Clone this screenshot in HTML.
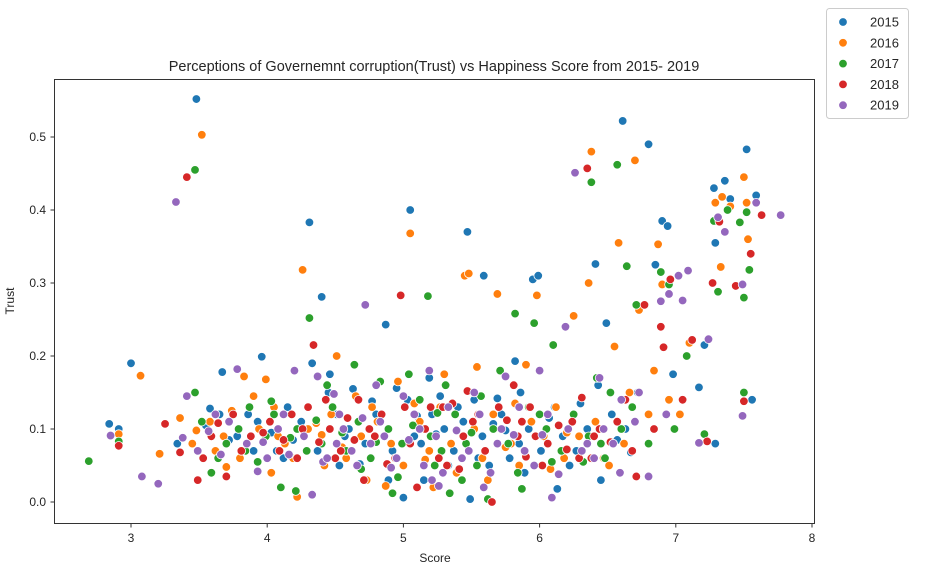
<!DOCTYPE html>
<html><head><meta charset="utf-8"><style>
body{margin:0;background:#fff;font-family:"Liberation Sans","DejaVu Sans",sans-serif;}
svg text{font-family:"Liberation Sans","DejaVu Sans",sans-serif;fill:#262626;}
</style></head><body>
<svg id="chart" width="925" height="580">
<text x="434" y="71" text-anchor="middle" font-size="14.5">Perceptions of Governemnt corruption(Trust) vs Happiness Score from 2015- 2019</text>
<g id="marks"></g>
<rect x="54.5" y="79.5" width="760" height="444" fill="none" stroke="#333" stroke-width="1"/>
<g id="axes"></g>
<text x="435" y="562" text-anchor="middle" font-size="12">Score</text>
<text x="14" y="301" text-anchor="middle" font-size="12" transform="rotate(-90 14 301)">Trust</text>
<g id="legend"></g>
</svg>
<script>
const years = ["2015","2016","2017","2018","2019"];
const colors = ["#1f77b4","#ff7f0e","#2ca02c","#d62728","#9467bd"];
const xTicks = [3,4,5,6,7,8];
const yTicks = [0,0.1,0.2,0.3,0.4,0.5];
const yTickLabels = ["0.0","0.1","0.2","0.3","0.4","0.5"];
const d2015 = [[2.84,.107],[2.91,.100],[3.00,.190],[3.34,.080],[3.48,.552],[3.58,.128],[3.65,.120],[3.67,.178],[3.78,.090],[3.90,.070],[3.96,.199],[4.03,.095],[4.12,.060],[4.22,.008],[4.31,.383],[4.33,.190],[4.40,.281],[4.46,.175],[4.51,.120],[4.57,.090],[4.63,.155],[4.68,.052],[4.77,.138],[4.87,.243],[4.89,.030],[4.95,.156],[5.00,.006],[5.05,.400],[5.10,.118],[5.13,.080],[5.19,.170],[5.27,.145],[5.33,.050],[5.40,.130],[5.47,.370],[5.49,.004],[5.55,.060],[5.59,.310],[5.69,.142],[5.75,.098],[5.82,.193],[5.85,.080],[5.89,.040],[5.95,.305],[5.99,.310],[6.07,.115],[6.13,.018],[6.30,.135],[6.41,.326],[6.45,.030],[6.49,.245],[6.57,.085],[6.61,.522],[6.67,.068],[6.80,.490],[6.85,.325],[6.90,.385],[6.94,.378],[6.98,.175],[7.17,.157],[7.21,.215],[7.28,.430],[7.29,.355],[7.29,.080],[7.36,.440],[7.40,.415],[7.52,.483],[7.56,.140],[7.59,.420],[5.24,.093],[4.19,.085],[3.93,.110],[6.27,.070],[5.66,.107],
[3.55,.105],[3.72,.085],[3.86,.12],[4.07,.07],[4.15,.13],[4.25,.11],[4.37,.07],[4.45,.15],[4.53,.05],[4.60,.10],[4.72,.08],[4.80,.12],[4.92,.07],[5.03,.14],[5.08,.09],[5.15,.03],[5.21,.12],[5.30,.10],[5.37,.07],[5.44,.11],[5.52,.14],[5.58,.09],[5.63,.05],[5.72,.12],[5.78,.06],[5.86,.15],[5.92,.10],[6.01,.07],[6.11,.13],[6.17,.09],[6.22,.05],[6.35,.10],[6.43,.16],[6.53,.12],[6.63,.10],[6.72,.15]];
const d2016 = [[3.07,.173],[2.91,.093],[3.36,.115],[3.52,.503],[3.48,.098],[3.62,.070],[3.70,.048],[3.74,.125],[3.83,.172],[3.90,.145],[3.99,.168],[4.08,.090],[4.19,.060],[4.22,.007],[4.26,.318],[4.36,.108],[4.42,.050],[4.51,.200],[4.55,.075],[4.65,.145],[4.73,.030],[4.81,.110],[4.87,.022],[4.96,.165],[5.05,.368],[5.08,.135],[5.16,.058],[5.22,.020],[5.30,.175],[5.45,.310],[5.48,.313],[5.54,.185],[5.62,.030],[5.69,.285],[5.75,.075],[5.82,.135],[5.90,.188],[5.98,.283],[6.03,.090],[6.08,.045],[6.20,.095],[6.38,.480],[6.36,.300],[6.47,.060],[6.55,.213],[6.58,.355],[6.70,.468],[6.73,.263],[6.87,.353],[6.90,.298],[6.95,.140],[7.03,.120],[7.10,.218],[7.29,.410],[7.33,.322],[7.34,.418],[7.40,.405],[7.50,.445],[7.52,.410],[7.53,.360],[4.40,.092],[5.35,.080],[6.25,.255],[4.03,.040],[3.21,.066],[6.84,.180],
[3.45,.08],[3.58,.11],[3.68,.09],[3.80,.06],[3.94,.10],[4.05,.13],[4.13,.08],[4.30,.10],[4.47,.12],[4.58,.06],[4.69,.09],[4.77,.13],[4.91,.08],[5.00,.05],[5.12,.11],[5.19,.07],[5.27,.13],[5.39,.04],[5.52,.10],[5.58,.06],[5.66,.12],[5.79,.08],[5.85,.05],[5.94,.11],[6.12,.13],[6.18,.06],[6.29,.09],[6.41,.11],[6.51,.05],[6.62,.08],[6.66,.15],[6.80,.12]];
const d2017 = [[2.69,.056],[2.91,.083],[3.47,.455],[3.47,.150],[3.59,.040],[3.64,.060],[3.79,.100],[3.87,.130],[3.93,.055],[4.03,.138],[4.10,.020],[4.17,.088],[4.29,.070],[4.31,.252],[4.36,.112],[4.44,.160],[4.55,.095],[4.64,.188],[4.69,.045],[4.80,.082],[4.83,.165],[4.96,.034],[5.04,.175],[5.07,.105],[5.18,.282],[5.23,.050],[5.25,.122],[5.31,.160],[5.34,.012],[5.50,.095],[5.57,.145],[5.62,.004],[5.71,.180],[5.82,.258],[5.84,.040],[5.87,.018],[5.96,.245],[6.00,.120],[6.10,.215],[6.09,.055],[6.38,.438],[6.42,.170],[6.45,.080],[6.52,.150],[6.57,.462],[6.64,.323],[6.71,.270],[6.89,.315],[6.95,.298],[6.99,.100],[7.08,.200],[7.21,.093],[7.28,.385],[7.31,.288],[7.38,.400],[7.47,.383],[7.50,.150],[7.52,.397],[7.54,.318],[7.50,.280],[4.21,.015],[5.43,.030],[4.92,.012],[6.32,.055],
[3.52,.11],[3.70,.08],[3.84,.07],[3.99,.09],[4.05,.12],[4.22,.10],[4.40,.08],[4.48,.13],[4.58,.07],[4.67,.11],[4.76,.06],[4.89,.10],[4.99,.08],[5.12,.14],[5.20,.09],[5.28,.07],[5.38,.12],[5.46,.08],[5.54,.05],[5.66,.10],[5.77,.08],[5.92,.13],[6.05,.10],[6.16,.07],[6.25,.12],[6.36,.09],[6.48,.06],[6.60,.10],[6.68,.13],[6.80,.08]];
const d2018 = [[2.91,.077],[3.25,.107],[3.36,.068],[3.41,.445],[3.49,.030],[3.59,.090],[3.70,.035],[3.81,.070],[3.97,.095],[4.12,.085],[4.18,.120],[4.26,.100],[4.34,.215],[4.38,.082],[4.43,.140],[4.50,.060],[4.59,.115],[4.71,.030],[4.75,.100],[4.88,.052],[4.98,.283],[5.01,.130],[5.10,.020],[5.16,.100],[5.26,.060],[5.36,.135],[5.41,.045],[5.47,.152],[5.55,.120],[5.65,.000],[5.76,.112],[5.81,.160],[5.87,.110],[5.97,.090],[6.02,.050],[6.14,.105],[6.20,.072],[6.31,.143],[6.35,.457],[6.38,.060],[6.44,.100],[6.63,.140],[6.71,.035],[6.77,.270],[6.89,.240],[6.91,.212],[6.96,.305],[7.12,.222],[7.23,.083],[7.27,.300],[7.32,.384],[7.44,.296],[7.50,.138],[7.55,.340],[7.63,.393],[6.52,.082],[5.29,.130],[4.64,.085],[3.64,.108],[5.90,.062],
[3.53,.06],[3.75,.12],[3.88,.09],[4.02,.11],[4.09,.07],[4.22,.06],[4.30,.13],[4.46,.10],[4.54,.07],[4.67,.14],[4.79,.09],[4.84,.12],[4.94,.06],[5.05,.08],[5.20,.13],[5.32,.05],[5.44,.09],[5.51,.11],[5.60,.07],[5.70,.13],[5.84,.09],[5.93,.13],[6.06,.08],[6.24,.11],[6.29,.06],[6.40,.09],[6.57,.11],[6.68,.07],[6.84,.10],[7.05,.14]];
const d2019 = [[2.85,.091],[3.08,.035],[3.20,.025],[3.33,.411],[3.38,.088],[3.41,.145],[3.57,.097],[3.66,.065],[3.78,.182],[3.93,.042],[3.97,.082],[4.08,.100],[4.16,.065],[4.20,.180],[4.33,.010],[4.37,.172],[4.41,.055],[4.49,.148],[4.56,.100],[4.62,.070],[4.70,.115],[4.72,.270],[4.80,.160],[4.86,.090],[4.91,.047],[5.00,.145],[5.04,.085],[5.12,.100],[5.19,.180],[5.21,.030],[5.29,.040],[5.39,.098],[5.43,.060],[5.52,.150],[5.59,.020],[5.69,.080],[5.75,.172],[5.81,.092],[5.89,.070],[6.00,.180],[6.02,.092],[6.09,.006],[6.14,.038],[6.19,.240],[6.26,.451],[6.35,.080],[6.40,.060],[6.44,.170],[6.59,.040],[6.73,.150],[6.80,.035],[6.89,.275],[6.95,.285],[7.02,.310],[7.05,.276],[7.09,.317],[7.17,.081],[7.24,.223],[7.31,.390],[7.36,.370],[7.49,.298],[7.49,.118],[7.59,.410],[7.77,.393],[6.60,.140],[5.26,.022],[4.51,.080],
[3.49,.07],[3.62,.12],[3.72,.11],[3.85,.08],[4.00,.06],[4.12,.12],[4.27,.09],[4.44,.06],[4.53,.12],[4.66,.05],[4.76,.08],[4.83,.11],[4.95,.06],[5.08,.12],[5.15,.05],[5.24,.09],[5.33,.13],[5.48,.07],[5.56,.12],[5.64,.04],[5.72,.10],[5.85,.13],[5.96,.05],[6.06,.12],[6.21,.10],[6.31,.07],[6.47,.10],[6.54,.08],[6.70,.11],[6.93,.12]];
const series = [d2015,d2016,d2017,d2018,d2019];
const NS="http://www.w3.org/2000/svg";
function xs(v){return 131+(v-3)*136.2;}
function ys(v){return 502-v*730;}
const marks=document.getElementById('marks');
series.forEach((pts,i)=>{
  pts.forEach(p=>{
    const c=document.createElementNS(NS,'circle');
    c.setAttribute('cx',xs(p[0]));c.setAttribute('cy',ys(p[1]));c.setAttribute('r',4.3);
    c.setAttribute('fill',colors[i]);c.setAttribute('stroke','#fff');c.setAttribute('stroke-width','0.8');
    
    
    marks.appendChild(c);
  });
});
const axes=document.getElementById('axes');
xTicks.forEach(t=>{
  const l=document.createElementNS(NS,'line');
  l.setAttribute('x1',xs(t));l.setAttribute('x2',xs(t));l.setAttribute('y1',523.5);l.setAttribute('y2',527.5);l.setAttribute('stroke','#333');
  
  
  axes.appendChild(l);
  const tx=document.createElementNS(NS,'text');
  tx.setAttribute('x',xs(t));tx.setAttribute('y',542);tx.setAttribute('text-anchor','middle');tx.setAttribute('font-size','12');
  tx.textContent=t;
  
  
  axes.appendChild(tx);
});
yTicks.forEach((t,i)=>{
  const l=document.createElementNS(NS,'line');
  l.setAttribute('x1',50.5);l.setAttribute('x2',54.5);l.setAttribute('y1',ys(t));l.setAttribute('y2',ys(t));l.setAttribute('stroke','#333');
  
  
  axes.appendChild(l);
  const tx=document.createElementNS(NS,'text');
  tx.setAttribute('x',46);tx.setAttribute('y',ys(t)+4);tx.setAttribute('text-anchor','end');tx.setAttribute('font-size','12');
  tx.textContent=yTickLabels[i];
  
  
  axes.appendChild(tx);
});
const lg=document.getElementById('legend');
const box=document.createElementNS(NS,'rect');
box.setAttribute('x',826.5);box.setAttribute('y',8.5);box.setAttribute('width',82);box.setAttribute('height',110);box.setAttribute('rx',3);
box.setAttribute('fill','#fff');box.setAttribute('stroke','#ccc');


lg.appendChild(box);
years.forEach((y,i)=>{
  const cy=22+i*20.8;
  const c=document.createElementNS(NS,'circle');
  c.setAttribute('cx',843);c.setAttribute('cy',cy);c.setAttribute('r',4.3);c.setAttribute('fill',colors[i]);c.setAttribute('stroke','#fff');c.setAttribute('stroke-width','0.8');
  
  
  lg.appendChild(c);
  const t=document.createElementNS(NS,'text');
  t.setAttribute('x',870);t.setAttribute('y',cy+4.5);t.setAttribute('font-size','13');t.textContent=y;
  
  
  lg.appendChild(t);
});
</script>
</body></html>
